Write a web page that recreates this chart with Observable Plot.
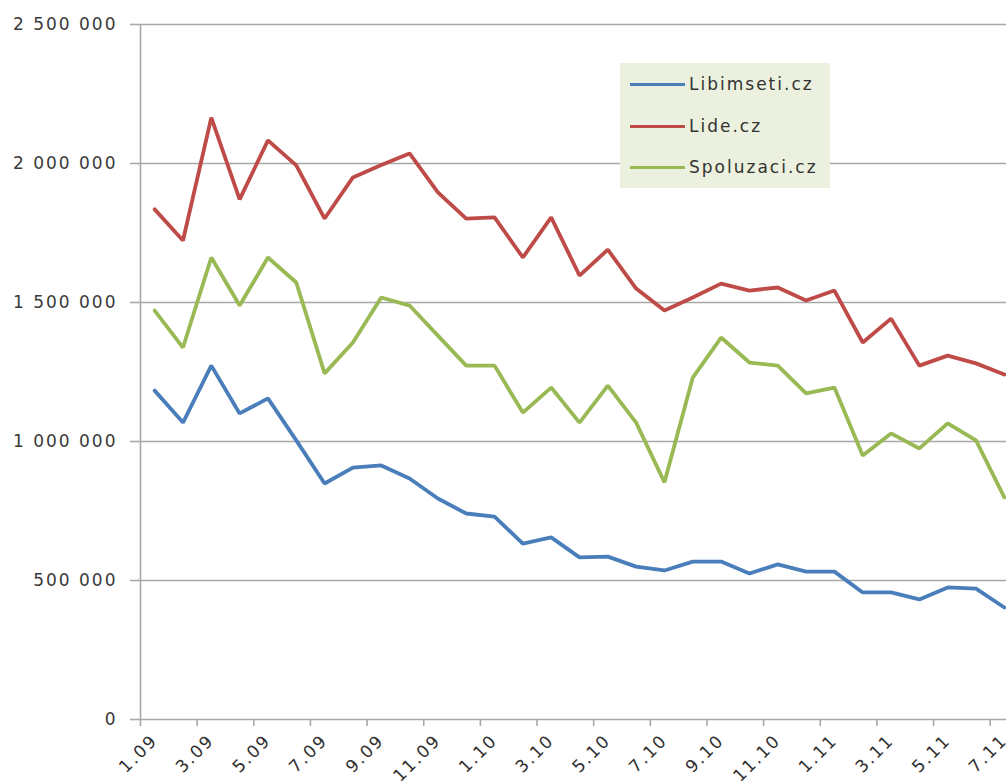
<!DOCTYPE html>
<html>
<head>
<meta charset="utf-8">
<script src="https://cdn.jsdelivr.net/npm/d3@7"></script>
<script src="https://cdn.jsdelivr.net/npm/@observablehq/plot@0.6"></script>
<style>
  html, body { margin: 0; padding: 0; background: #fff; overflow: hidden; }
  #wrap { position: relative; width: 1006px; height: 782px; overflow: hidden; }
  #wrap svg { max-width: none !important; position: absolute; left: 0; top: 0; }
  #legend { position: absolute; left: 620px; top: 63px; width: 210px; height: 125px; background: #ebf1de;
            font-family: "DejaVu Sans", sans-serif; font-size: 17px; letter-spacing: 2px; color: #333; }
  .item { position: absolute; left: 10px; height: 20px; display: flex; align-items: center; }
  .sw { width: 55px; height: 0; border-top: 3.5px solid; margin-right: 4px; }
</style>
</head>
<body>
<div id="wrap"><div id="legend"></div></div>
<script>
const months = ["1.09","2.09","3.09","4.09","5.09","6.09","7.09","8.09","9.09","10.09","11.09","12.09",
                "1.10","2.10","3.10","4.10","5.10","6.10","7.10","8.10","9.10","10.10","11.10","12.10",
                "1.11","2.11","3.11","4.11","5.11","6.11","7.11"];
const seriesNames = ["Libimseti.cz", "Lide.cz", "Spoluzaci.cz"];
const seriesColors = ["#4a7ebb", "#be4b48", "#98b954"];
const libimseti = [1183000,1068000,1273000,1101000,1155000,1004000,849000,906000,914000,867000,795000,741000,
                   730000,633000,655000,583000,586000,550000,536000,568000,568000,525000,558000,532000,
                   532000,457000,457000,432000,475000,471000,403000];
const lide = [1835000,1723000,2165000,1871000,2083000,1993000,1802000,1950000,1995000,2036000,1896000,1802000,
              1806000,1662000,1806000,1597000,1690000,1550000,1471000,1518000,1568000,1543000,1554000,1507000,
              1543000,1356000,1442000,1273000,1309000,1281000,1241000];
const spoluzaci = [1471000,1338000,1662000,1489000,1662000,1572000,1245000,1356000,1518000,1489000,1381000,1273000,
                   1273000,1104000,1194000,1068000,1201000,1068000,853000,1230000,1374000,1284000,1273000,1173000,
                   1194000,950000,1029000,975000,1065000,1004000,799000];
const yTicks = [0, 500000, 1000000, 1500000, 2000000, 2500000];

const seriesValues = [libimseti, lide, spoluzaci];
const data = seriesNames.flatMap((name, s) =>
  seriesValues[s].map((v, i) => ({series: name, idx: i + 0.5, value: v})));

const boundaries = d3.range(0, months.length + 1, 2);
const labelCenters = d3.range(0, months.length, 2).map(i => i + 0.5);
const fmtY = v => d3.format(",")(v).replace(/,/g, " ");
const gridColor = "#a8a8a8";

const chart = Plot.plot({
  width: 1030,
  height: 782,
  marginLeft: 140,
  marginRight: 12,
  marginTop: 24,
  marginBottom: 63,
  style: {fontFamily: "DejaVu Sans, sans-serif", fontSize: "17px", letterSpacing: "2px", color: "#3a3a3a", background: "transparent", maxWidth: "none"},
  x: {domain: [0, months.length], axis: null},
  y: {domain: [0, 2500000], axis: null},
  color: {domain: seriesNames, range: seriesColors},
  marks: [
    Plot.gridY(yTicks, {stroke: gridColor, strokeOpacity: 1, strokeWidth: 1.6}),
    Plot.axisY({ticks: yTicks, label: null, tickSize: 10, tickPadding: 13, tickFormat: fmtY, stroke: gridColor, strokeWidth: 1.6, fill: "#3a3a3a"}),
    Plot.ruleX([0], {stroke: gridColor, strokeWidth: 1.6}),
    Plot.axisX({ticks: boundaries, label: null, tickSize: 7, tickFormat: () => "", stroke: gridColor, strokeWidth: 1.6}),
    Plot.axisX({ticks: labelCenters, label: null, tickSize: 0, tickPadding: 18, tickRotate: -45,
                tickFormat: c => months[Math.floor(c)], fill: "#2e2e2e"}),
    Plot.lineY(data, {x: "idx", y: "value", z: "series", stroke: "series", strokeWidth: 3.8, strokeLinejoin: "miter"})
  ]
});
const wrap = document.getElementById("wrap");
wrap.insertBefore(chart, wrap.firstChild);

const legend = document.getElementById("legend");
const tops = [11, 53, 94];
seriesNames.forEach((name, i) => {
  const item = document.createElement("div");
  item.className = "item";
  item.style.top = tops[i] + "px";
  const sw = document.createElement("div");
  sw.className = "sw";
  sw.style.borderTopColor = seriesColors[i];
  const t = document.createElement("span");
  t.textContent = name;
  item.appendChild(sw);
  item.appendChild(t);
  legend.appendChild(item);
});
</script>
</body>
</html>
